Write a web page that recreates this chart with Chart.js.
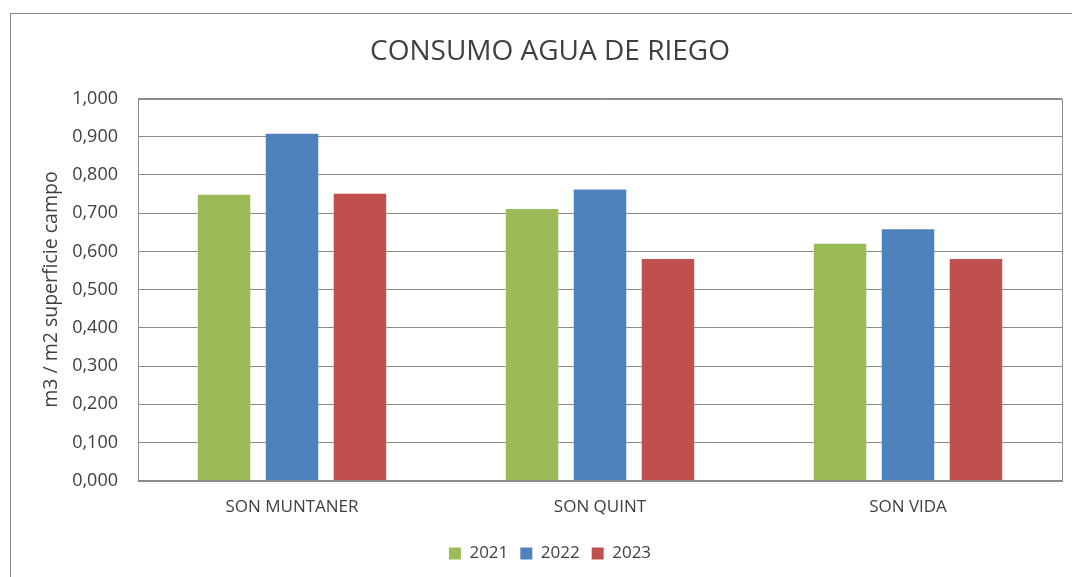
<!DOCTYPE html>
<html>
<head>
<meta charset="utf-8">
<script src="https://cdn.jsdelivr.net/npm/chart.js@4.4.1/dist/chart.umd.min.js"></script>
<style>
  html, body { margin: 0; padding: 0; background: #fff; overflow: hidden; }
  #wrap { position: relative; width: 1072px; height: 577px; overflow: hidden; }
  #frame {
    position: absolute; left: 10px; top: 13px; width: 1080px; height: 600px;
    border: 1px solid #8a8a8a; box-sizing: border-box;
  }
  #chart { position: absolute; left: 0; top: 0; }
</style>
</head>
<body>
<div id="wrap">
  <div id="frame"></div>
  <canvas id="chart" width="1100" height="600"></canvas>
</div>
<script>
// Chart data
const categories = ["SON MUNTANER", "SON QUINT", "SON VIDA"];
const years = ["2021", "2022", "2023"];
const values2021 = [0.748, 0.711, 0.620];
const values2022 = [0.908, 0.762, 0.658];
const values2023 = [0.751, 0.580, 0.580];
const barColors = ["#9bbb59", "#4f81bd", "#c0504d"];

const textColor = "#404040";
const lineColor = "#8c8c8c";
const fontFamily = "'Open Sans', sans-serif";

// Box round the plot area (right + top edges)
const plotBorder = {
  id: "plotBorder",
  beforeDatasetsDraw(chart) {
    const { ctx, chartArea } = chart;
    ctx.save();
    ctx.strokeStyle = lineColor;
    ctx.lineWidth = 1;
    ctx.strokeRect(Math.round(chartArea.left) + 0.5, Math.round(chartArea.top) + 0.5,
      Math.round(chartArea.right - chartArea.left), Math.round(chartArea.bottom - chartArea.top));
    ctx.restore();
  }
};

const seriesValues = [values2021, values2022, values2023];

new Chart(document.getElementById("chart"), {
  type: "bar",
  data: {
    labels: categories,
    datasets: years.map((year, i) => ({
      label: year,
      data: seriesValues[i],
      backgroundColor: barColors[i],
      borderWidth: 0,
      categoryPercentage: 0.662,
      barPercentage: 0.772
    }))
  },
  options: {
    responsive: false,
    animation: false,
    layout: { padding: { left: 38, right: 38, top: 0, bottom: 28 } },
    plugins: {
      title: {
        display: true,
        text: "CONSUMO AGUA DE RIEGO",
        color: textColor,
        font: { family: fontFamily, size: 28, weight: "normal" },
        padding: { top: 35, bottom: 30 }
      },
      legend: {
        position: "bottom",
        labels: {
          color: textColor,
          font: { family: fontFamily, size: 17 },
          boxWidth: 12,
          boxHeight: 12,
          padding: 12
        }
      },
      tooltip: { enabled: false }
    },
    scales: {
      x: {
        grid: { display: false, drawTicks: false },
        border: { display: true, color: lineColor },
        ticks: {
          color: textColor,
          font: { family: fontFamily, size: 17 },
          padding: 16
        }
      },
      y: {
        min: 0,
        max: 1,
        afterFit(scale) { scale.width = 100; },
        grid: { color: lineColor, drawTicks: false },
        border: { display: true, color: lineColor },
        ticks: {
          stepSize: 0.1,
          color: textColor,
          font: { family: fontFamily, size: 18 },
          padding: 20,
          callback: (v) => v.toFixed(3).replace(".", ",")
        },
        title: {
          display: true,
          text: "m3 / m2 superficie campo",
          color: textColor,
          font: { family: fontFamily, size: 19.5 },
          padding: { top: 2, bottom: 0 }
        }
      }
    }
  },
  plugins: [plotBorder]
});
</script>
</body>
</html>
